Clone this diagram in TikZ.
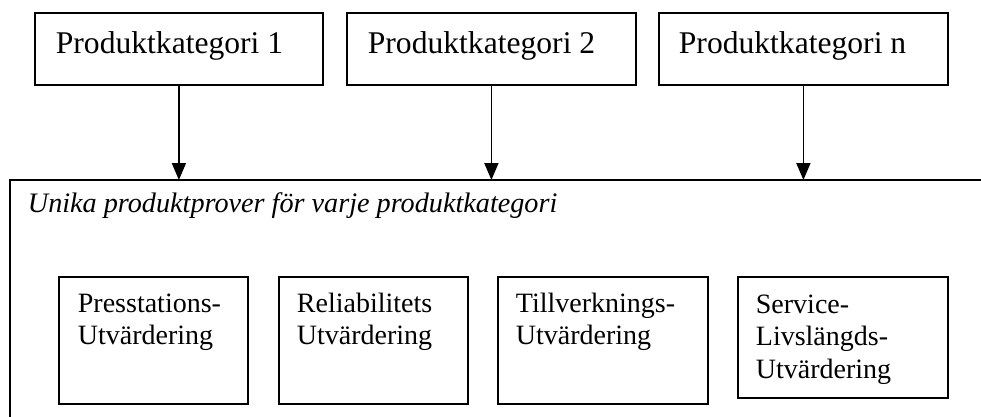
\documentclass[tikz,border=0pt]{standalone}
\usepackage{fontspec}
\setmainfont{Liberation Serif}
\usetikzlibrary{arrows.meta}
\begin{document}
\begin{tikzpicture}[x=1pt,y=-1pt,
  line width=1.8pt,
  boxnode/.style={draw, line width=1.8pt, rectangle, anchor=north west, inner sep=0pt},
  toptext/.style={anchor=base west, inner sep=0pt, font=\fontsize{31.6}{36}\selectfont},
  lowtext/.style={anchor=base west, inner sep=0pt, align=left, font=\fontsize{28}{32.5}\selectfont},
  arr/.style={-{Triangle[width=14pt,length=17pt]}, line width=1.8pt}]
\useasboundingbox (0,0) rectangle (981,416);
% top boxes
\node[boxnode, minimum width=288, minimum height=72] (k1) at (34,12) {};
\node[boxnode, minimum width=289, minimum height=72] (k2) at (346,12) {};
\node[boxnode, minimum width=289, minimum height=72] (k3) at (658,12) {};
\node[toptext] (k1t) at (55,53) {Produktkategori 1};
\node[toptext] (k2t) at (367,53) {Produktkategori 2};
\node[toptext] (k3t) at (678,53) {Produktkategori n};
% big container (top and left edges)
\coordinate (bigtl) at (10,180);
\coordinate (bigtr) at (990,180);
\coordinate (bigbl) at (10,425);
\draw (bigbl) -- (bigtl) -- (bigtr);
\node[anchor=base west, inner sep=0pt, font=\fontsize{28.2}{32}\selectfont\itshape] (title) at (27,212) {Unika produktprover för varje produktkategori};
% arrows
\draw[arr] (k1.south) -- (k1.south |- bigtl);
\draw[arr] (k2.south) -- (k2.south |- bigtl);
\draw[arr] (k3.south) -- (k3.south |- bigtl);
% lower boxes
\node[boxnode, minimum width=189, minimum height=127] (u1) at (58,276) {};
\node[boxnode, minimum width=189, minimum height=127] (u2) at (278,276) {};
\node[boxnode, minimum width=210, minimum height=127] (u3) at (497,276) {};
\node[boxnode, minimum width=210, minimum height=121] (u4) at (737,276) {};
\node[lowtext] (u1t) at (77,344.5) {Presstations-\\Utvärdering};
\node[lowtext] (u2t) at (296,344.5) {Reliabilitets\\Utvärdering};
\node[lowtext] (u3t) at (515,344.5) {Tillverknings-\\Utvärdering};
\node[lowtext] (u4t) at (755,378) {Service-\\Livslängds-\\Utvärdering};
\end{tikzpicture}
\end{document}
